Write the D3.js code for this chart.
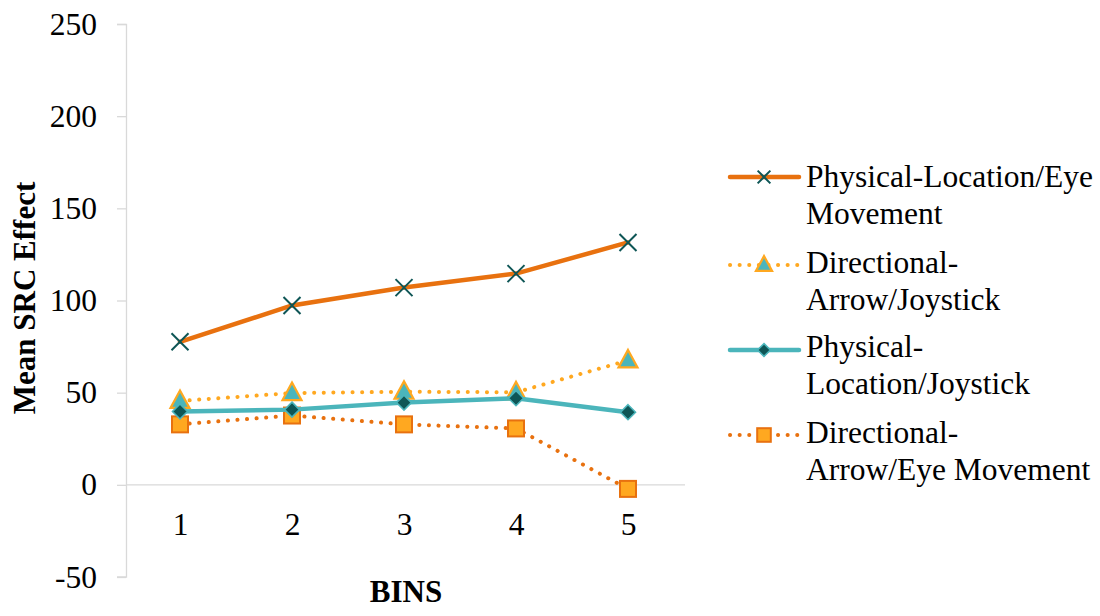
<!DOCTYPE html>
<html><head><meta charset="utf-8">
<script src="https://cdn.jsdelivr.net/npm/d3@7"></script>
<style>body{margin:0;background:#fff;} svg{display:block;font-family:"Liberation Serif","Times New Roman",serif;}</style>
</head><body>
<svg id="c" width="1100" height="616"></svg>
<script>
const categories = ["1","2","3","4","5"];
const yTicks = [-50,0,50,100,150,200,250];
const physEye = [77.6, 97.3, 107, 114.6, 131.5];
const dirJoy = [45.5, 49.8, 50.5, 50.2, 67.5];
const physJoy = [39.8, 40.8, 44.6, 47, 39.4];
const dirEye = [32.8, 37.6, 32.8, 30.6, -2.2];
const seriesNames = [["Physical-Location/Eye","Movement"],["Directional-","Arrow/Joystick"],["Physical-","Location/Joystick"],["Directional-","Arrow/Eye Movement"]];

const series = [
  {name:seriesNames[0], values:physEye, color:"#E8710F", width:4.5, dash:null, marker:"x"},
  {name:seriesNames[1], values:dirJoy, color:"#FFA820", width:4, dash:"0.1,9.5", marker:"tri"},
  {name:seriesNames[2], values:physJoy, color:"#4BB5BB", width:4.5, dash:null, marker:"dia"},
  {name:seriesNames[3], values:dirEye, color:"#E8710F", width:4, dash:"0.1,9.5", marker:"sq"}
];

const svg = d3.select("#c");
const x = d3.scalePoint().domain(categories).range([180,628]);
const y = d3.scaleLinear().domain([-50,250]).range([577,24]);

// y axis
const yAxis = svg.append("g").attr("transform","translate(126,0)")
  .call(d3.axisLeft(y).tickValues(yTicks).tickSize(9).tickPadding(20).tickFormat(d=>String(d)));
yAxis.select(".domain").attr("stroke","#d9d9d9").attr("stroke-width",1.3).attr("d","M-9,24.5H0.5V577H-9");
yAxis.selectAll(".tick line").attr("stroke","#d9d9d9").attr("stroke-width",1.3);
yAxis.selectAll(".tick text").attr("font-size",31.5).attr("fill","#000").attr("font-family","Liberation Serif");

// x axis at 0
const xAxis = svg.append("g").attr("transform",`translate(0,${y(0)})`)
  .call(d3.axisBottom(x).tickSize(0).tickPadding(28));
xAxis.select(".domain").attr("stroke","#d9d9d9").attr("stroke-width",1.3).attr("d","M126,0H685");
xAxis.selectAll(".tick text").attr("font-size",31.5).attr("fill","#000").attr("font-family","Liberation Serif");

// axis titles
svg.append("text").attr("x",406).attr("y",602).attr("text-anchor","middle")
  .attr("font-size",31).attr("font-weight","bold").text("BINS");
svg.append("text").attr("transform","translate(35,298) rotate(-90)").attr("text-anchor","middle")
  .attr("font-size",31).attr("font-weight","bold").text("Mean SRC Effect");

const line = d3.line().x((d,i)=>x(categories[i])).y(d=>y(d));

function drawMarker(g, type, cx, cy, scale){
  const s = scale||1;
  if(type==="x"){
    const r=8.5*s;
    g.append("path").attr("d",`M${cx-r},${cy-r}L${cx+r},${cy+r}M${cx-r},${cy+r}L${cx+r},${cy-r}`)
      .attr("stroke","#0E5656").attr("stroke-width",2).attr("fill","none");
  } else if(type==="tri"){
    const r=10*s;
    g.append("path").attr("d",`M${cx},${cy-r*1.05}L${cx+r*0.95},${cy+r*0.7}L${cx-r*0.95},${cy+r*0.7}Z`)
      .attr("fill","#4BB5BB").attr("stroke","#FFA820").attr("stroke-width",2.2).attr("stroke-linejoin","miter");
  } else if(type==="dia"){
    const r=7.5*s;
    g.append("path").attr("d",`M${cx},${cy-r}L${cx+r},${cy}L${cx},${cy+r}L${cx-r},${cy}Z`)
      .attr("fill","#0E5656").attr("stroke","#4BB5BB").attr("stroke-width",1.6);
  } else if(type==="sq"){
    const r=8*s;
    g.append("rect").attr("x",cx-r).attr("y",cy-r).attr("width",2*r).attr("height",2*r)
      .attr("fill","#FFA820").attr("stroke","#E8710F").attr("stroke-width",2);
  }
}

// draw lines in order (bottom to top as in reference)
const drawOrder = [3,1,2,0];
drawOrder.forEach(k=>{
  const s = series[k];
  const g = svg.append("g");
  g.append("path").datum(s.values).attr("d",line).attr("fill","none")
    .attr("stroke",s.color).attr("stroke-width",s.width)
    .attr("stroke-linecap","round")
    .attr("stroke-dasharray",s.dash);
  s.values.forEach((v,i)=>drawMarker(g,s.marker,x(categories[i]),y(v),1));
});

// legend
const legLineY = [177,265,350,435];
const legTextY = [187,273,357,443];
series.forEach((s,k)=>{
  const g = svg.append("g");
  const ly = legLineY[k];
  g.append("line").attr("x1",730).attr("x2",799).attr("y1",ly).attr("y2",ly)
    .attr("stroke",s.color).attr("stroke-width",s.width).attr("stroke-linecap","round")
    .attr("stroke-dasharray",s.dash);
  drawMarker(g,s.marker,764,ly,k===0?0.75:0.85);
  s.name.forEach((t,j)=>{
    g.append("text").attr("x",806).attr("y",legTextY[k]+j*36.5).attr("font-size",31.5).attr("fill","#000").text(t);
  });
});
</script>
</body></html>
